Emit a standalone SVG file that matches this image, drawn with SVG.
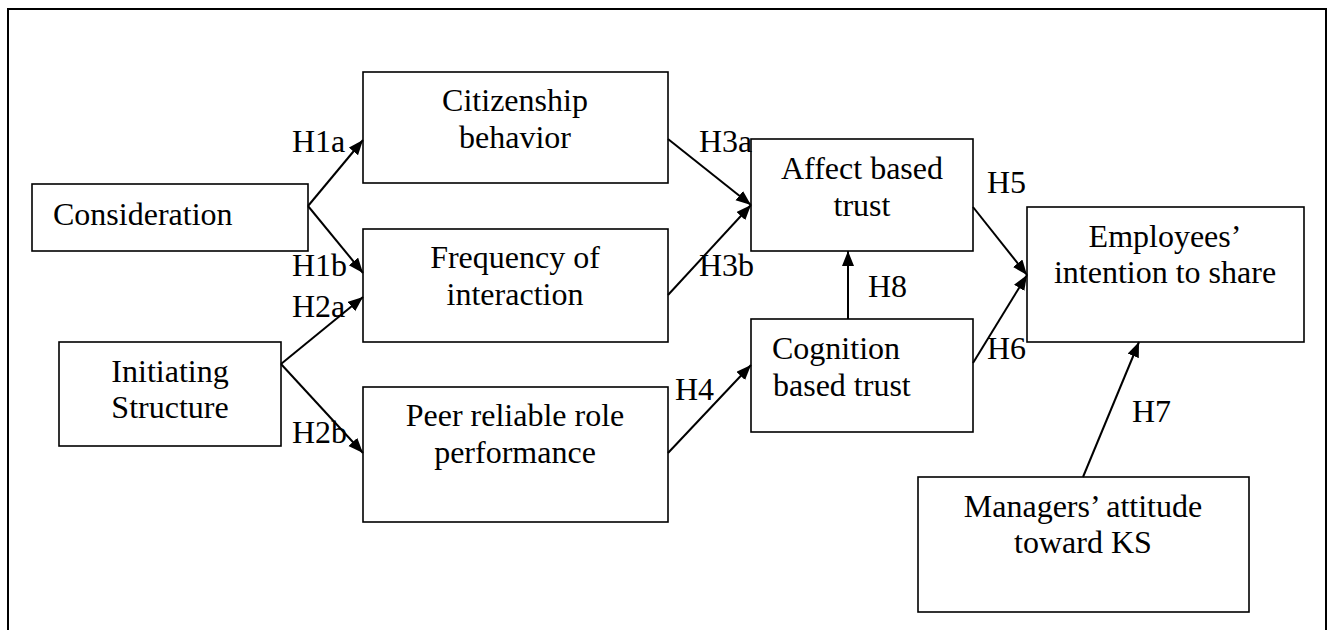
<svg xmlns="http://www.w3.org/2000/svg" width="1331" height="630" viewBox="0 0 1331 630">
<style>
.box{fill:#fff;stroke:#000;stroke-width:1.6}
.t{font-family:"Liberation Serif","Times New Roman",serif;font-size:32px;fill:#000}
.c{text-anchor:middle}
.e{stroke:#000;stroke-width:2;fill:none}
</style>
<defs>
<marker id="ah" markerUnits="userSpaceOnUse" markerWidth="16" markerHeight="13" refX="15" refY="6" orient="auto">
<path d="M0,0 L15,6 L0,12 z" fill="#000"/>
</marker>
</defs>
<rect width="1331" height="630" fill="#fff"/>
<path d="M8,640 V9 H1326 V640" fill="none" stroke="#000" stroke-width="2"/>

<g id="consideration"><rect class="box" x="32" y="184" width="276" height="67"/><text class="t" x="53" y="225">Consideration</text></g>
<g id="initiating"><rect class="box" x="59" y="342" width="222" height="104"/><text class="t c" x="170" y="382">Initiating</text><text class="t c" x="170" y="418">Structure</text></g>
<g id="citizenship"><rect class="box" x="363" y="72" width="305" height="111"/><text class="t c" x="515" y="111">Citizenship</text><text class="t c" x="515" y="148">behavior</text></g>
<g id="frequency"><rect class="box" x="363" y="229" width="305" height="113"/><text class="t c" x="515" y="268">Frequency of</text><text class="t c" x="515" y="305">interaction</text></g>
<g id="peer"><rect class="box" x="363" y="387" width="305" height="135"/><text class="t c" x="515" y="426">Peer reliable role</text><text class="t c" x="515" y="463">performance</text></g>
<g id="affect"><rect class="box" x="751" y="139" width="222" height="112"/><text class="t c" x="862" y="179">Affect based</text><text class="t c" x="862" y="216">trust</text></g>
<g id="cognition"><rect class="box" x="751" y="319" width="222" height="113"/><text class="t" x="772" y="359">Cognition</text><text class="t" x="773" y="396">based trust</text></g>
<g id="employees"><rect class="box" x="1027" y="207" width="277" height="135"/><text class="t c" x="1165" y="247">Employees’</text><text class="t c" x="1165" y="283">intention to share</text></g>
<g id="managers"><rect class="box" x="918" y="477" width="331" height="135"/><text class="t c" x="1083" y="517">Managers’ attitude</text><text class="t c" x="1083" y="553">toward KS</text></g>

<g id="connectors">
<line class="e" x1="308" y1="206" x2="363" y2="140" marker-end="url(#ah)"/>
<line class="e" x1="308" y1="206" x2="363" y2="273" marker-end="url(#ah)"/>
<line class="e" x1="281" y1="364" x2="363" y2="297" marker-end="url(#ah)"/>
<line class="e" x1="281" y1="364" x2="363" y2="453" marker-end="url(#ah)"/>
<line class="e" x1="668" y1="139" x2="751" y2="205" marker-end="url(#ah)"/>
<line class="e" x1="668" y1="295" x2="751" y2="205" marker-end="url(#ah)"/>
<line class="e" x1="668" y1="453" x2="751" y2="365" marker-end="url(#ah)"/>
<line class="e" x1="848" y1="319" x2="848" y2="251" marker-end="url(#ah)"/>
<line class="e" x1="973" y1="207" x2="1027" y2="275" marker-end="url(#ah)"/>
<line class="e" x1="973" y1="363" x2="1027" y2="275" marker-end="url(#ah)"/>
<line class="e" x1="1083" y1="477" x2="1139" y2="342" marker-end="url(#ah)"/>
</g>
<g id="labels">
<text class="t" x="292" y="152">H1a</text>
<text class="t" x="292" y="276">H1b</text>
<text class="t" x="292" y="317">H2a</text>
<text class="t" x="292" y="443">H2b</text>
<text class="t" x="699" y="152">H3a</text>
<text class="t" x="699" y="276">H3b</text>
<text class="t" x="675" y="400">H4</text>
<text class="t" x="868" y="297">H8</text>
<text class="t" x="987" y="193">H5</text>
<text class="t" x="987" y="359">H6</text>
<text class="t" x="1132" y="422">H7</text>
</g>
</svg>
